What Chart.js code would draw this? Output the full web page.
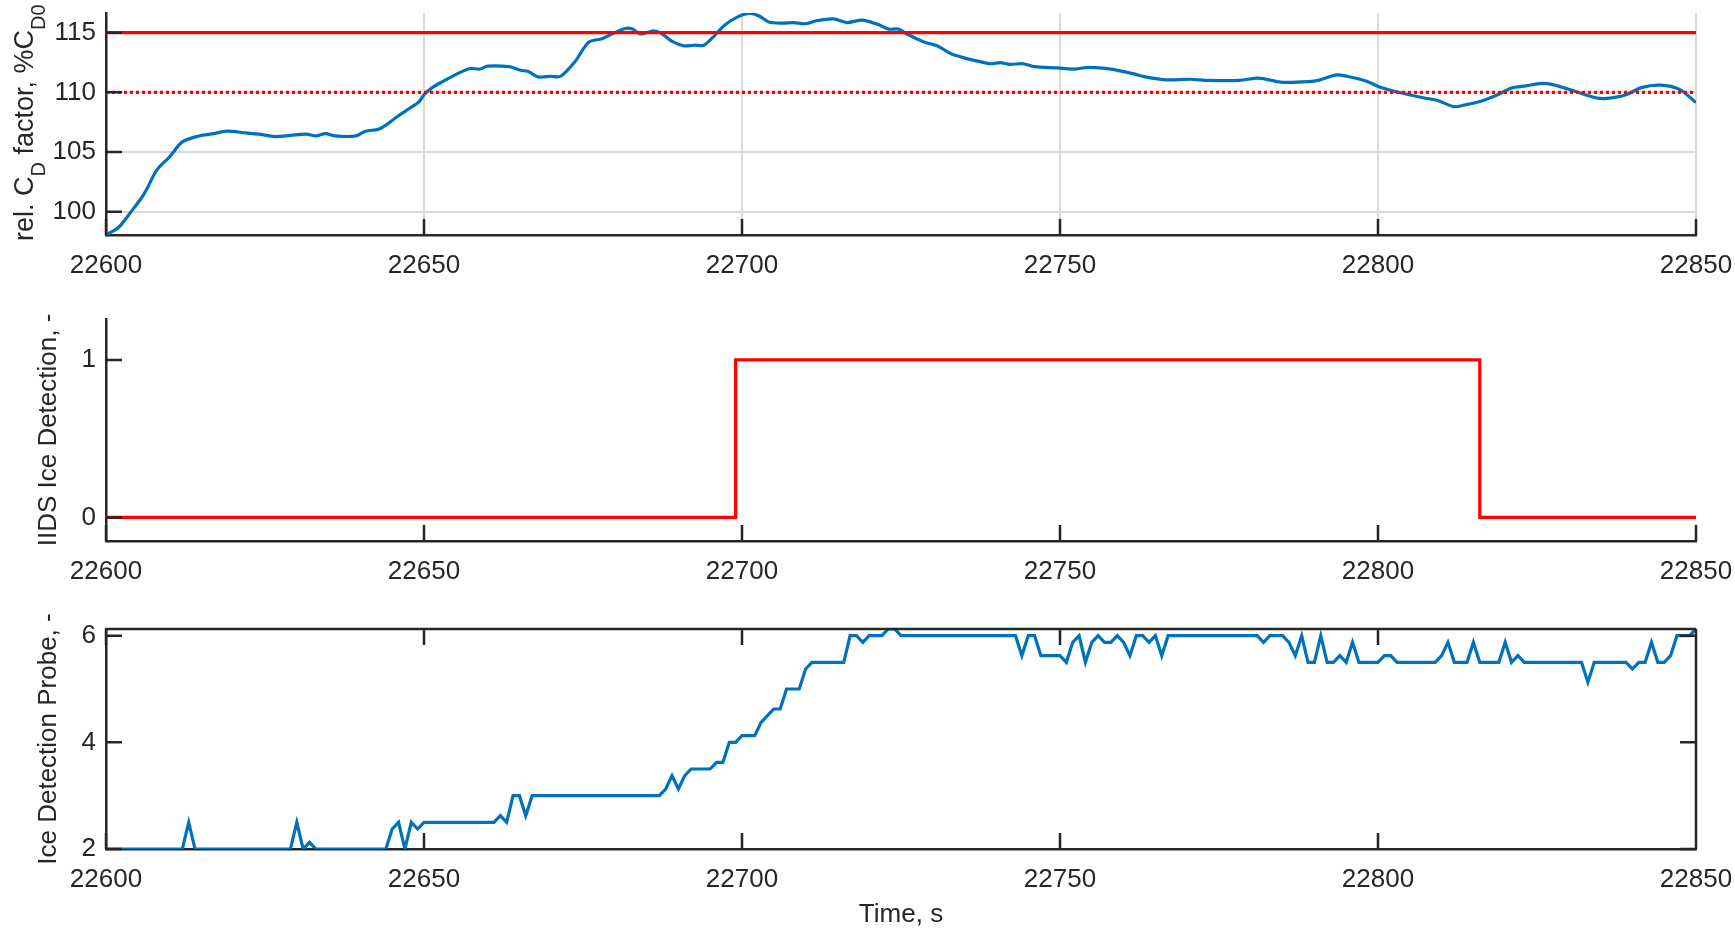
<!DOCTYPE html>
<html>
<head>
<meta charset="utf-8">
<script src="https://cdn.jsdelivr.net/npm/chart.js@4.4.1/dist/chart.umd.min.js"></script>
<style>
  html, body { margin: 0; padding: 0; background: #fff; }
  body { width: 1735px; height: 933px; position: relative; overflow: hidden; }
  canvas { position: absolute; left: 0; }
</style>
</head>
<body>
<canvas id="cdChart" width="1735" height="300" style="top:0px"></canvas>
<canvas id="iidsChart" width="1735" height="300" style="top:300px"></canvas>
<canvas id="probeChart" width="1735" height="333" style="top:600px"></canvas>
<script>
// ---------------------------------------------------------------------------
// Data
// ---------------------------------------------------------------------------
const timeTicks = [22600, 22650, 22700, 22750, 22800, 22850];
const cdTicks = [100, 105, 110, 115];
const iidsTicks = [0, 1];
const probeTicks = [2, 4, 6];

// relative CD factor, %CD0
const cdTime = [
  22600, 22602, 22603.8, 22606, 22608, 22610, 22612, 22614.6, 22617, 22619,
  22622, 22624, 22626.6, 22629, 22631.5, 22633, 22634.5, 22636, 22639.3, 22640.8,
  22642.8, 22644, 22645.6, 22647.7, 22649.2, 22650, 22651.3, 22653.1, 22655.2, 22657.3,
  22658.8, 22660, 22663.4, 22665.2, 22666.4, 22667.9, 22670, 22671.5, 22673.7, 22675.9,
  22678, 22679.8, 22681.6, 22682.8, 22684, 22686.1, 22687.3, 22689.1, 22690.9, 22692.5,
  22694, 22695.5, 22697.3, 22699.4, 22701.2, 22702.7, 22704.2, 22706.3, 22708.1, 22709.9,
  22711.7, 22714.4, 22716.5, 22718.9, 22721.3, 22723.1, 22724.6, 22726.1, 22728.5, 22730.9,
  22732.8, 22735.2, 22737.6, 22739.1, 22740.6, 22742.1, 22744.2, 22746, 22749.6, 22752,
  22754.7, 22758, 22761.6, 22763.4, 22766.8, 22770.4, 22773.4, 22778.2, 22781.2, 22784.8,
  22789.1, 22790.9, 22793.3, 22795.1, 22798.1, 22800.5, 22802.9, 22807.1, 22809.5, 22811.9,
  22813.7, 22816.4, 22818.8, 22820.9, 22823.3, 22825.7, 22827.5, 22830.6, 22834.2, 22836,
  22839, 22841.4, 22844.4, 22847.4, 22850
];
const cdValue = [
  98.05, 98.7, 99.9, 101.5, 103.5, 104.6, 105.85, 106.35, 106.55, 106.75,
  106.6, 106.5, 106.3, 106.4, 106.5, 106.35, 106.55, 106.35, 106.35, 106.75,
  106.9, 107.25, 107.9, 108.65, 109.2, 109.8, 110.4, 110.95, 111.55, 112.0,
  111.95, 112.2, 112.15, 111.85, 111.75, 111.3, 111.35, 111.35, 112.55, 114.2,
  114.5, 114.95, 115.35, 115.3, 114.9, 115.15, 114.95, 114.25, 113.9, 113.95,
  113.95, 114.65, 115.65, 116.35, 116.62, 116.4, 115.9, 115.8, 115.85, 115.75,
  116.0, 116.15, 115.85, 116.05, 115.7, 115.3, 115.3, 114.85, 114.25, 113.85,
  113.25, 112.85, 112.55, 112.4, 112.5, 112.35, 112.4, 112.15, 112.05, 111.95,
  112.1, 111.95, 111.55, 111.3, 111.05, 111.1, 111.0, 111.0, 111.2, 110.85,
  110.9, 111.05, 111.45, 111.35, 110.95, 110.4, 110.05, 109.55, 109.3, 108.8,
  108.95, 109.3, 109.8, 110.35, 110.55, 110.75, 110.65, 110.15, 109.55, 109.5,
  109.8, 110.4, 110.6, 110.25, 109.15
];
const cdLimit = 115;     // solid red line
const cdWarning = 110;   // dotted red line

// IIDS ice detection flag
const iidsTime = [22600, 22699, 22816, 22850];
const iidsValue = [0, 1, 0, 0];

// ice detection probe
const probeTime = [
  22600, 22612, 22613, 22614, 22629, 22630, 22631, 22632, 22633, 22644,
  22645, 22646, 22647, 22648, 22649, 22650, 22661, 22662, 22663, 22664,
  22665, 22666, 22667, 22687, 22688, 22689, 22690, 22691, 22692, 22695,
  22696, 22697, 22698, 22699, 22700, 22702, 22703, 22704, 22705, 22706,
  22707, 22709, 22710, 22711, 22716, 22717, 22718, 22719, 22720, 22722,
  22723, 22724, 22725, 22743, 22744, 22745, 22746, 22747, 22750, 22751,
  22752, 22753, 22754, 22755, 22756, 22757, 22758, 22759, 22760, 22761,
  22762, 22763, 22764, 22765, 22766, 22767, 22781, 22782, 22783, 22785,
  22786, 22787, 22788, 22789, 22790, 22791, 22792, 22793, 22794, 22795,
  22796, 22797, 22800, 22801, 22802, 22803, 22809, 22810, 22811, 22812,
  22814, 22815, 22816, 22819, 22820, 22821, 22822, 22823, 22832, 22833,
  22834, 22839, 22840, 22841, 22842, 22843, 22844, 22845, 22846, 22847,
  22849, 22850
];
const probeValue = [
  2, 2, 2.5, 2, 2, 2.5, 2, 2.125, 2, 2,
  2.375, 2.5, 2, 2.5, 2.375, 2.5, 2.5, 2.625, 2.5, 3,
  3, 2.625, 3, 3, 3.125, 3.375, 3.125, 3.375, 3.5, 3.5,
  3.625, 3.625, 4, 4, 4.125, 4.125, 4.375, 4.5, 4.625, 4.625,
  5, 5, 5.375, 5.5, 5.5, 6, 6, 5.875, 6, 6,
  6.125, 6.125, 6, 6, 5.625, 6, 6, 5.625, 5.625, 5.5,
  5.875, 6, 5.5, 5.875, 6, 5.875, 5.875, 6, 5.875, 5.625,
  6, 6, 5.875, 6, 5.625, 6, 6, 5.875, 6, 6,
  5.875, 5.625, 6, 5.5, 5.5, 6, 5.5, 5.5, 5.625, 5.5,
  5.875, 5.5, 5.5, 5.625, 5.625, 5.5, 5.5, 5.625, 5.875, 5.5,
  5.5, 5.875, 5.5, 5.5, 5.875, 5.5, 5.625, 5.5, 5.5, 5.125,
  5.5, 5.5, 5.375, 5.5, 5.5, 5.875, 5.5, 5.5, 5.625, 6,
  6, 6.125
];

// ---------------------------------------------------------------------------
// Styling
// ---------------------------------------------------------------------------
const FONT = 'Helvetica, Arial, "Liberation Sans", sans-serif';
const TEXT_COLOR = '#262626';
const AXIS_COLOR = '#262626';
const GRID_COLOR = '#d9d9d9';
const BLUE = '#0072BD';
const RED = '#FF0000';
const TICK_LEN = 16;

function xy(xs, ys) {
  return xs.map((x, i) => ({ x: x, y: ys[i] }));
}

// MATLAB style inward ticks (+ optional box)
const inwardTicks = {
  id: 'inwardTicks',
  afterDraw(chart, args, opts) {
    const { ctx, chartArea: a } = chart;
    const x = chart.scales.x, y = chart.scales.y;
    ctx.save();
    ctx.strokeStyle = AXIS_COLOR;
    ctx.lineWidth = 2.5;
    ctx.beginPath();
    if (opts.box) {
      ctx.moveTo(a.left, a.top); ctx.lineTo(a.right, a.top);
      ctx.moveTo(a.right, a.top); ctx.lineTo(a.right, a.bottom);
    }
    x.ticks.forEach(t => {
      const px = x.getPixelForValue(t.value);
      ctx.moveTo(px, a.bottom); ctx.lineTo(px, a.bottom - TICK_LEN);
      if (opts.box) { ctx.moveTo(px, a.top); ctx.lineTo(px, a.top + TICK_LEN); }
    });
    y.ticks.forEach(t => {
      const py = y.getPixelForValue(t.value);
      ctx.moveTo(a.left, py); ctx.lineTo(a.left + TICK_LEN, py);
      if (opts.box) { ctx.moveTo(a.right, py); ctx.lineTo(a.right - TICK_LEN, py); }
    });
    ctx.stroke();
    ctx.restore();
  }
};

// y label with subscripts (rel. C_D factor, %C_D0)
const richYLabel = {
  id: 'richYLabel',
  afterDraw(chart, args, opts) {
    if (!opts.parts) return;
    const ctx = chart.ctx;
    ctx.save();
    ctx.translate(opts.x, opts.y);
    ctx.rotate(-Math.PI / 2);
    ctx.fillStyle = TEXT_COLOR;
    ctx.textBaseline = 'alphabetic';
    ctx.textAlign = 'left';
    let pos = 0;
    opts.parts.forEach(p => {
      ctx.font = (p.sub ? opts.subSize : opts.size) + 'px ' + FONT;
      ctx.fillText(p.text, pos, p.sub ? opts.subShift : 0);
      pos += ctx.measureText(p.text).width;
    });
    ctx.restore();
  }
};

function makeScales(cfg) {
  return {
    x: {
      type: 'linear',
      min: timeTicks[0],
      max: timeTicks[timeTicks.length - 1],
      afterBuildTicks: s => { s.ticks = timeTicks.map(v => ({ value: v })); },
      afterFit: s => { s.height = cfg.xHeight; s.paddingLeft = 0; s.paddingRight = 0; },
      grid: { display: cfg.grid, color: GRID_COLOR, lineWidth: 2, drawTicks: false },
      border: { display: true, color: AXIS_COLOR, width: 2.5 },
      ticks: {
        color: TEXT_COLOR, font: { family: FONT, size: 26 }, padding: 15,
        autoSkip: false, maxRotation: 0, callback: v => String(v)
      },
      title: {
        display: !!cfg.xTitle, text: cfg.xTitle || '', color: TEXT_COLOR,
        font: { family: FONT, size: 26 }, padding: { top: 0, bottom: 3 }
      }
    },
    y: {
      type: 'linear',
      min: cfg.yMin,
      max: cfg.yMax,
      afterBuildTicks: s => { s.ticks = cfg.yTicks.map(v => ({ value: v })); },
      afterFit: s => { s.width = 106; s.paddingTop = 0; s.paddingBottom = 0; },
      grid: { display: cfg.grid, color: GRID_COLOR, lineWidth: 2, drawTicks: false },
      border: { display: true, color: AXIS_COLOR, width: 2.5 },
      ticks: {
        color: TEXT_COLOR, font: { family: FONT, size: 26 }, padding: 10,
        callback: v => String(v)
      },
      title: {
        display: !!cfg.yTitle, text: cfg.yTitle || '', color: TEXT_COLOR,
        font: { family: FONT, size: 26 }, padding: { top: 33, bottom: 0 }
      }
    }
  };
}

function baseOptions(cfg) {
  return {
    responsive: false,
    animation: false,
    layout: { padding: { left: 0, right: 39, top: cfg.padTop, bottom: 0 } },
    scales: makeScales(cfg),
    plugins: {
      legend: { display: false },
      tooltip: { enabled: false },
      inwardTicks: { box: !!cfg.box },
      richYLabel: cfg.richLabel || {}
    }
  };
}

// ---------------------------------------------------------------------------
// Panel 1: relative CD factor
// ---------------------------------------------------------------------------
new Chart(document.getElementById('cdChart').getContext('2d'), {
  type: 'line',
  data: {
    datasets: [
      {
        data: xy([timeTicks[0], timeTicks[timeTicks.length - 1]], [cdLimit, cdLimit]),
        borderColor: RED, borderWidth: 3.2, pointRadius: 0
      },
      {
        data: xy([timeTicks[0], timeTicks[timeTicks.length - 1]], [cdWarning, cdWarning]),
        borderColor: RED, borderWidth: 3.2, borderDash: [3, 3], pointRadius: 0
      },
      {
        data: xy(cdTime, cdValue),
        borderColor: BLUE, borderWidth: 3.2, pointRadius: 0, tension: 0.3
      }
    ]
  },
  options: baseOptions({
    yMin: 98.05, yMax: 116.65, yTicks: cdTicks, grid: true,
    padTop: 13, xHeight: 65,
    richLabel: {
      x: 33, y: 241, size: 27, subSize: 20, subShift: 12,
      parts: [
        { text: 'rel. C' }, { text: 'D', sub: true },
        { text: ' factor, %C' }, { text: 'D0', sub: true }
      ]
    }
  }),
  plugins: [inwardTicks, richYLabel]
});

// ---------------------------------------------------------------------------
// Panel 2: IIDS ice detection
// ---------------------------------------------------------------------------
new Chart(document.getElementById('iidsChart').getContext('2d'), {
  type: 'line',
  data: {
    datasets: [{
      data: xy(iidsTime, iidsValue),
      borderColor: RED, borderWidth: 3.2, pointRadius: 0, stepped: 'before'
    }]
  },
  options: baseOptions({
    yMin: -0.15, yMax: 1.26, yTicks: iidsTicks, grid: false,
    padTop: 19, xHeight: 59, yTitle: 'IIDS Ice Detection, -'
  }),
  plugins: [inwardTicks, richYLabel]
});

// ---------------------------------------------------------------------------
// Panel 3: ice detection probe
// ---------------------------------------------------------------------------
new Chart(document.getElementById('probeChart').getContext('2d'), {
  type: 'line',
  data: {
    datasets: [{
      data: xy(probeTime, probeValue),
      borderColor: BLUE, borderWidth: 3.2, pointRadius: 0
    }]
  },
  options: baseOptions({
    yMin: 2, yMax: 6.125, yTicks: probeTicks, grid: false, box: true,
    padTop: 29, xHeight: 84, yTitle: 'Ice Detection Probe, -', xTitle: 'Time, s'
  }),
  plugins: [inwardTicks, richYLabel]
});
</script>
</body>
</html>
